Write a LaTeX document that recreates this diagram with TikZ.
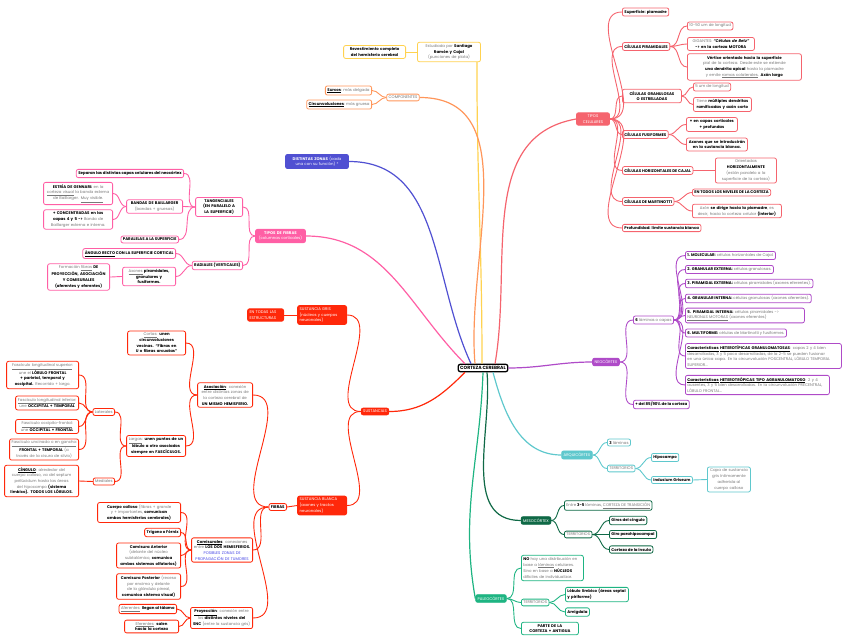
\documentclass[tikz,border=0pt]{standalone}
\usepackage{fontspec}
\setmainfont{Poppins}

\definecolor{csal}{RGB}{245,100,110}
\definecolor{cpur}{RGB}{175,75,200}
\definecolor{ctea}{RGB}{95,200,205}
\definecolor{cdkg}{RGB}{15,105,70}
\definecolor{cgrn}{RGB}{30,180,130}
\definecolor{cyel}{RGB}{255,210,80}
\definecolor{corg}{RGB}{255,150,90}
\definecolor{cblu}{RGB}{80,80,210}
\definecolor{cpnk}{RGB}{255,95,165}
\definecolor{cred}{RGB}{255,40,10}
\definecolor{softgray}{RGB}{120,120,120}
\definecolor{tumor}{RGB}{70,70,230}
\newcommand{\soft}[1]{\textcolor{softgray}{#1}}
\newcommand{\nohy}{\hyphenpenalty=10000\exhyphenpenalty=10000}

\begin{document}
\begin{tikzpicture}[
  x=1pt, y=-1pt,
  every node/.style={font=\fontsize{3.9}{5.7}\selectfont\nohy, inner sep=2pt, rounded corners=2pt},
  root/.style={draw=black, line width=1.3pt, fill=white, font=\fontsize{4.6}{6}\selectfont\bfseries},
  topic/.style={draw=#1, fill=#1, text=white, line width=0.8pt},
  leaf/.style={draw=#1, fill=white, line width=0.8pt},
  rs/.style={anchor=west},
  ls/.style={anchor=east},
  branch/.style={draw=#1, line width=1.2pt},
  link/.style={draw=#1, line width=0.9pt}
]
\useasboundingbox (0,0) rectangle (848,644);

% Nodes
\node[root] (cc) at (483,368) {CORTEZA CEREBRAL};

% tipos celulares
\node[topic=csal, text width=29pt, align=center] (tc) at (593,119) {TIPOS\\CELULARES};
\node[leaf=csal, rs] (pia) at (622,12) {\textbf{Superficie: piamadre}};
\node[leaf=csal, rs] (pir) at (622,46.5) {\textbf{CÉLULAS PIRAMIDALES}};
\node[leaf=csal, rs] (pir1) at (687,26) {\soft{10-50 um de longitud}};
\node[leaf=csal, rs, text width=63pt, align=center] (pir2) at (687,44) {\soft{GIGANTES:} \textbf{\textit{``Células de Betz''}} \textbf{-> en la corteza MOTORA}};
\node[leaf=csal, rs, text width=110pt, align=center] (pir3) at (687,67) {\textbf{Vértice orientado hacia la superficie} \soft{pial de la corteza. Desde este se extiende} \textbf{una dendrita apical} \soft{hasta la piamadre y emite \underline{ramas colaterales}.} \textbf{Axón largo}};
\node[leaf=csal, rs, text width=55pt, align=center] (gra) at (622,96) {\textbf{CÉLULAS GRANULOSAS O ESTRELLADAS}};
\node[leaf=csal, rs] (gra1) at (693,87) {\soft{5 um de longitud}};
\node[leaf=csal, rs, text width=54pt, align=center] (gra2) at (693,104.5) {\soft{Tiene} \textbf{múltiples dendritas ramificadas y axón corto}};
\node[leaf=csal, rs] (fus) at (622,134.5) {\textbf{CÉLULAS FUSIFORMES}};
\node[leaf=csal, rs, text width=47pt, align=center] (fus1) at (686,124.5) {\textbf{+ en capas corticales + profundas}};
\node[leaf=csal, rs, text width=57pt, align=center] (fus2) at (686,144.5) {\textbf{Axones que se introducirán en la sustancia blanca.}};
\node[leaf=csal, rs] (hor) at (622,170.5) {\textbf{CÉLULAS HORIZONTALES DE CAJAL}};
\node[leaf=csal, rs, text width=57pt, align=center] (hor1) at (715,170.5) {\soft{Orientadas} \textbf{HORIZONTALMENTE} \soft{(están paralelo a la superficie de la corteza)}};
\node[leaf=csal, rs] (mar) at (622,201.5) {\textbf{CÉLULAS DE MARTINOTTI}};
\node[leaf=csal, rs] (mar1) at (692,192.5) {\textbf{EN TODOS LOS NIVELES DE LA CORTEZA}};
\node[leaf=csal, rs, text width=85pt, align=center] (mar2) at (692,211) {\soft{Axón} \textbf{se dirige hacia la piamadre}\soft{, es decir, hacia la corteza celular} \textbf{(interior)}};
\node[leaf=csal, rs] (pro) at (622,228) {\textbf{Profundidad: límite sustancia blanca}};

% neocortex
\node[topic=cpur] (neo) at (606,362) {NEOCÓRTEX};
\node[leaf=cpur, rs] (seis) at (633,320) {\textbf{6} \soft{láminas o capas}};
\node[leaf=cpur, rs] (l1) at (685,255.5) {\textbf{1. MOLECULAR:} \soft{células horizontales de Cajal.}};
\node[leaf=cpur, rs] (l2) at (685,269.5) {\textbf{2. GRANULAR EXTERNA:} \soft{células granulosas.}};
\node[leaf=cpur, rs] (l3) at (685,283.5) {\textbf{3. PIRAMIDAL EXTERNA:} \soft{células piramidales (axones eferentes).}};
\node[leaf=cpur, rs] (l4) at (685,298.5) {\textbf{4. GRANULAR INTERNA:} \soft{células granulosas (axones aferentes).}};
\node[leaf=cpur, rs, text width=115pt, align=left] (l5) at (685,315.5) {\textbf{5. PIRAMIDAL INTERNA:} \soft{células piramidales -> \underline{NEURONAS MOTORAS} (axones eferentes)}};
\node[leaf=cpur, rs] (l6) at (685,333) {\textbf{6. MULTIFORME:} \soft{células de Martinotti y fusiformes.}};
\node[leaf=cpur, rs, text width=152pt, align=left] (l7) at (685,356) {\textbf{\underline{Características} \underline{HETEROTÍPICAS GRANULOMATOSAS}}\soft{: capas 2 y 4 bien desarrolladas, 3 y 5 poco desarrolladas, de la 2-5 se pueden fusionar en una única capa. En la circunvolución POSCENTRAL, LÓBULO TEMPORAL SUPERIOR...}};
\node[leaf=cpur, rs, text width=140pt, align=left] (l8) at (685,385) {\textbf{\underline{Características} \underline{HETEROTRÓPICAS TIPO AGRANULOMATOSO}}\soft{: 2 y 4 ausentes, 3 y 5 bien desarrolladas. En la circunvolución PRECENTRAL, LÓBULO FRONTAL...}};
\node[leaf=cpur, rs] (pct) at (633,404.5) {\textbf{+ del 85/90\% de la corteza}};

% arquicortex
\node[topic=ctea] (arq) at (577,455) {ARQUICÓRTEX};
\node[leaf=ctea, rs] (a1) at (607,442.5) {\textbf{3} \soft{láminas}};
\node[leaf=ctea, rs] (a2) at (607,468.5) {\soft{TERRITORIOS}};
\node[leaf=ctea, rs] (hip) at (651,457.5) {\textbf{Hipocampo}};
\node[leaf=ctea, rs] (ind) at (651,480) {\textbf{Indusium Griseum}};
\node[leaf=ctea, rs, text width=39pt, align=center] (capa) at (707,479.5) {\soft{Capa de sustancia gris íntimamente adherida al cuerpo calloso}};

% mesocortex
\node[topic=cdkg] (mes) at (536,520.5) {MESOCÓRTEX};
\node[leaf=cdkg, rs] (m1) at (564,505.5) {\soft{Entre} \textbf{3-5} \soft{láminas, \underline{CORTEZA DE TRANSICIÓN}}};
\node[leaf=cdkg, rs] (m2) at (564,534.5) {\soft{TERRITORIOS}};
\node[leaf=cdkg, rs] (cin) at (609,520.5) {\textbf{Giros del cíngulo}};
\node[leaf=cdkg, rs] (par) at (609,534.5) {\textbf{Giro parahipocampal}};
\node[leaf=cdkg, rs] (ins) at (609,549.5) {\textbf{Corteza de la ínsula}};

% paleocortex
\node[topic=cgrn] (pal) at (491,598.5) {PALEOCÓRTEX};
\node[leaf=cgrn, rs, text width=58pt, align=left] (p1) at (521,568) {\textbf{NO} \soft{hay una distribución en base a \underline{láminas} celulares. Sino en base a} \textbf{NÚCLEOS} \soft{difíciles de individualizar.}};
\node[leaf=cgrn, rs] (p2) at (521,602.5) {\soft{TERRITORIOS}};
\node[leaf=cgrn, rs, text width=59pt, align=left] (lim) at (565,594.5) {\textbf{Lóbulo límbico (áreas septal y piriforme)}};
\node[leaf=cgrn, rs] (ami) at (565,612) {\textbf{Amígdala}};
\node[leaf=cgrn, rs, text width=53pt, align=center] (p3) at (521,628.5) {\textbf{PARTE DE LA CORTEZA + ANTIGUA}};

% revestimiento
\node[leaf=cyel, text width=59pt, align=center] (est) at (449,52) {\soft{Estudiada por} \textbf{Santiago Ramón y Cajal} \soft{(punciones de plata)}};
\node[leaf=cyel, ls, text width=58pt, align=center] (rev) at (406,52) {\textbf{Revestimiento completo del hemisferio cerebral}};

% componentes
\node[leaf=corg] (com) at (403,97.5) {\soft{COMPONENTES}};
\node[leaf=corg, ls] (sur) at (372,90.5) {\textbf{\underline{Surcos}}\soft{: más delgada}};
\node[leaf=corg, ls] (cir) at (372,104.5) {\textbf{\underline{Circunvoluciones}}\soft{: más gruesa}};

% zonas
\node[topic=cblu, text width=59pt, align=center] (dz) at (317,161.5) {\textbf{DISTINTAS ZONAS} (cada una con su función) *};

% tipos de fibras
\node[topic=cpnk, text width=46pt, align=center] (tf) at (280.5,236) {\textbf{TIPOS DE FIBRAS} (columnas corticales)};
\node[leaf=cpnk, ls, text width=43pt, align=center] (tan) at (243,207) {\textbf{TANGENCIALES (EN PARALELO A LA SUPERFICIE)}};
\node[leaf=cpnk, ls] (sep) at (184,173.5) {\textbf{Separan las distintas capas celulares del neocórtex}};
\node[leaf=cpnk, ls, text width=52pt, align=center] (ban) at (183,206.5) {\textbf{BANDAS DE BAILLARGER}\\\soft{(bandas + gruesas)}};
\node[leaf=cpnk, ls, text width=65pt, align=center] (gen) at (113,193.5) {\textbf{ESTRÍA DE GENNARI:} \soft{en la \underline{corteza visual} la banda externa de Baillarger. \underline{Muy visible.}}};
\node[leaf=cpnk, ls, text width=65pt, align=center] (con) at (113,219.5) {\textbf{+ CONCENTRADAS en las capas 4 y 5 ->} \soft{Banda de Baillarger externa e interna.}};
\node[leaf=cpnk, ls] (par2) at (179,239.5) {\textbf{PARALELAS A LA SUPERFICIE}};
\node[leaf=cpnk, ls] (rad) at (243,265.5) {\textbf{RADIALES (VERTICALES)}};
\node[leaf=cpnk, ls] (ang) at (176,253.5) {\textbf{\underline{ÁNGULO RECTO} CON LA SUPERFICIE CORTICAL}};
\node[leaf=cpnk, ls, text width=49pt, align=center] (axo) at (176,276.5) {\soft{\underline{Axones}} \textbf{piramidales, granulares y fusiformes.}};
\node[leaf=cpnk, ls, text width=58pt, align=center] (fmn) at (110,277) {\soft{Formación \underline{fibras}} \textbf{DE PROYECCIÓN, ASOCIACIÓN Y COMISURALES (aferentes y eferentes)}};

% sustancias
\node[topic=cred] (sus) at (375,411.5) {SUSTANCIAS};
\node[topic=cred, ls, text width=45pt, align=left] (sg) at (347,315) {SUSTANCIA GRIS (núcleos y cuerpos neuronales)};
\node[topic=cred, ls, text width=32pt, align=left] (ent) at (284,315) {EN TODAS LAS ESTRUCTURAS};
\node[topic=cred, ls, text width=45pt, align=left] (sb) at (347,505.5) {SUSTANCIA BLANCA (axones y tractos neuronales)};
\node[leaf=cred, ls] (fib) at (287,507) {\textbf{FIBRAS}};
\node[leaf=cred, ls, text width=51pt, align=center] (aso) at (253,395) {\textbf{\underline{Asociación}}\soft{: conexión entre distintas zonas de la corteza cerebral de} \textbf{UN MISMO HEMISFERIO.}};
\node[leaf=cred, ls, text width=54pt, align=center] (cor) at (186,343) {\soft{\underline{Cortas}:} \textbf{unen circunvoluciones vecinas. ``Fibras en U o fibras arcuatas''}};
\node[leaf=cred, ls, text width=55pt, align=center] (lar) at (186,446) {\soft{\underline{Largas}:} \textbf{unen puntos de un lóbulo a otro asociados siempre en FASCÍCULOS.}};
\node[leaf=cred, ls] (lat) at (115,412) {\soft{Laterales}};
\node[leaf=cred, ls, text width=68pt, align=center] (fs) at (79,375) {\soft{\underline{Fascículo longitudinal superior}: une el} \textbf{LÓBULO FRONTAL + parietal, temporal y occipital.} \soft{Recorrido + largo.}};
\node[leaf=cred, ls, text width=59pt, align=center] (fi) at (79,403) {\soft{\underline{Fascículo longitudinal inferior}: une} \textbf{OCCIPITAL + TEMPORAL}};
\node[leaf=cred, ls, text width=59pt, align=center] (fo) at (79,426.5) {\soft{\underline{Fascículo occipito-frontal}: une} \textbf{OCCIPITAL + FRONTAL}};
\node[leaf=cred, ls, text width=65pt, align=center] (fu) at (79,449.5) {\soft{\underline{Fascículo uncinado o en gancho}:} \textbf{FRONTAL + TEMPORAL} \soft{(a través de la cisura de silvio)}};
\node[leaf=cred, ls] (med) at (115,481.5) {\soft{Mediales}};
\node[leaf=cred, ls, text width=70pt, align=center] (cing) at (79,481) {\textbf{\underline{CÍNGULO}}\soft{: alrededor del cuerpo calloso, va del septum pellúcidum hasta las áreas del hipocampo} \textbf{(sistema límbico). TODOS LOS LÓBULOS.}};
\node[leaf=cred, ls, text width=57pt, align=center] (comi) at (253,550) {\textbf{\underline{Comisurales}}\soft{: conexiones entre} \textbf{LOS DOS HEMISFERIOS.} \textcolor{tumor}{POSIBLES ZONAS DE PROPAGACIÓN DE TUMORES}};
\node[leaf=cred, ls, text width=79pt, align=center] (cc1) at (181,512.5) {\textbf{Cuerpo calloso} \soft{(fibras + grande y + importantes,} \textbf{comunican ambos hemisferios cerebrales)}};
\node[leaf=cred, ls] (tri) at (181,532.5) {\textbf{Trígono o Fórnix}};
\node[leaf=cred, ls, text width=60pt, align=center] (ca) at (181,555.5) {\textbf{Comisura Anterior} \soft{(delante del núcleo subtalámico,} \textbf{comunica ambos sistemas olfatorios)}};
\node[leaf=cred, ls, text width=60pt, align=center] (cp) at (181,586.5) {\textbf{Comisura Posterior} \soft{(receso por encima y delante de la glándula pineal,} \textbf{comunica sistema visual)}};
\node[leaf=cred, ls, text width=58pt, align=center] (proy) at (253,618) {\textbf{\underline{Proyección}}\soft{: conexión entre los} \textbf{distintos niveles del SNC} \soft{(entre la sustancia gris)}};
\node[leaf=cred, ls] (afe) at (177,609) {\soft{\underline{Aferentes}:} \textbf{llegan al tálamo}};
\node[leaf=cred, ls, text width=50pt, align=center] (efe) at (179,626.5) {\soft{\underline{Eferentes}:} \textbf{salen hacia la corteza}};

% Edges from the root
\draw[branch=csal] ([xshift=12pt]cc.north) to[out=80,in=190] (tc.west);
\draw[branch=cpur] (cc.east) to[out=0,in=180] (neo.west);
\draw[branch=ctea] ([xshift=10pt]cc.south) to[out=-75,in=180] (arq.west);
\draw[branch=cdkg] ([xshift=4pt]cc.south) to[out=-85,in=180] (mes.west);
\draw[branch=cgrn] (cc.south) to[out=-92,in=100] (pal.west);
\draw[branch=cyel] ([xshift=-1pt]cc.north) to[out=90,in=-90] ([xshift=-4pt]est.south east);
\draw[branch=corg] ([xshift=-8pt]cc.north) to[out=95,in=0] (com.east);
\draw[branch=cblu] ([xshift=-12pt]cc.north) to[out=115,in=0] (dz.east);
\draw[branch=cpnk] ([xshift=-18pt]cc.north) to[out=135,in=0] (tf.east);
\draw[branch=cred] ([xshift=-18pt]cc.south) to[out=-135,in=0] (sus.east);

% Edges, right side
\draw[link=csal] (tc.east) to[out=0,in=180] (pia.west);
\draw[link=csal] (tc.east) to[out=0,in=180] (pir.west);
\draw[link=csal] (tc.east) to[out=0,in=180] (gra.west);
\draw[link=csal] (tc.east) to[out=0,in=180] (fus.west);
\draw[link=csal] (tc.east) to[out=0,in=180] (hor.west);
\draw[link=csal] (tc.east) to[out=0,in=180] (mar.west);
\draw[link=csal] (tc.east) to[out=0,in=180] (pro.west);
\draw[link=csal] (pir.east) to[out=0,in=180] (pir1.west);
\draw[link=csal] (pir.east) to[out=0,in=180] (pir2.west);
\draw[link=csal] (pir.east) to[out=0,in=180] (pir3.west);
\draw[link=csal] (gra.east) to[out=0,in=180] (gra1.west);
\draw[link=csal] (gra.east) to[out=0,in=180] (gra2.west);
\draw[link=csal] (fus.east) to[out=0,in=180] (fus1.west);
\draw[link=csal] (fus.east) to[out=0,in=180] (fus2.west);
\draw[link=csal] (hor.east) -- (hor1.west);
\draw[link=csal] (mar.east) to[out=0,in=180] (mar1.west);
\draw[link=csal] (mar.east) to[out=0,in=180] (mar2.west);

\draw[link=cpur] (neo.east) to[out=0,in=180] (seis.west);
\draw[link=cpur] (neo.east) to[out=0,in=180] (pct.west);
\draw[link=cpur] (seis.east) to[out=0,in=180] (l1.west);
\draw[link=cpur] (seis.east) to[out=0,in=180] (l2.west);
\draw[link=cpur] (seis.east) to[out=0,in=180] (l3.west);
\draw[link=cpur] (seis.east) to[out=0,in=180] (l4.west);
\draw[link=cpur] (seis.east) to[out=0,in=180] (l5.west);
\draw[link=cpur] (seis.east) to[out=0,in=180] (l6.west);
\draw[link=cpur] (seis.east) to[out=0,in=180] (l7.west);
\draw[link=cpur] (seis.east) to[out=0,in=180] (l8.west);

\draw[link=ctea] (arq.east) to[out=0,in=180] (a1.west);
\draw[link=ctea] (arq.east) to[out=0,in=180] (a2.west);
\draw[link=ctea] (a2.east) to[out=0,in=180] (hip.west);
\draw[link=ctea] (a2.east) to[out=0,in=180] (ind.west);
\draw[link=ctea] (ind.east) -- (capa.west);

\draw[link=cdkg] (mes.east) to[out=0,in=180] (m1.west);
\draw[link=cdkg] (mes.east) to[out=0,in=180] (m2.west);
\draw[link=cdkg] (m2.east) to[out=0,in=180] (cin.west);
\draw[link=cdkg] (m2.east) to[out=0,in=180] (par.west);
\draw[link=cdkg] (m2.east) to[out=0,in=180] (ins.west);

\draw[link=cgrn] (pal.east) to[out=0,in=180] (p1.west);
\draw[link=cgrn] (pal.east) to[out=0,in=180] (p2.west);
\draw[link=cgrn] (pal.east) to[out=0,in=180] (p3.west);
\draw[link=cgrn] (p2.east) to[out=0,in=180] (lim.west);
\draw[link=cgrn] (p2.east) to[out=0,in=180] (ami.west);

% Edges, left side
\draw[link=cyel] (est.west) -- (rev.east);
\draw[link=corg] (com.west) to[out=180,in=0] (sur.east);
\draw[link=corg] (com.west) to[out=180,in=0] (cir.east);

\draw[link=cpnk] (tf.west) to[out=180,in=0] (tan.east);
\draw[link=cpnk] (tf.west) to[out=180,in=0] (rad.east);
\draw[link=cpnk] (tan.west) to[out=180,in=0] (sep.east);
\draw[link=cpnk] (tan.west) to[out=180,in=0] (ban.east);
\draw[link=cpnk] (tan.west) to[out=180,in=0] (par2.east);
\draw[link=cpnk] (ban.west) to[out=180,in=0] (gen.east);
\draw[link=cpnk] (ban.west) to[out=180,in=0] (con.east);
\draw[link=cpnk] (rad.west) to[out=180,in=0] (ang.east);
\draw[link=cpnk] (rad.west) to[out=180,in=0] (axo.east);
\draw[link=cpnk] (axo.west) to[out=180,in=0] (fmn.east);

\draw[link=cred] (sus.west) to[out=180,in=0] (sg.east);
\draw[link=cred] (sus.west) to[out=180,in=0] (sb.east);
\draw[link=cred] (sg.west) -- (ent.east);
\draw[link=cred] (sb.west) -- (fib.east);
\draw[link=cred] (fib.west) to[out=180,in=0] (aso.east);
\draw[link=cred] (fib.west) to[out=180,in=0] (comi.east);
\draw[link=cred] (fib.west) to[out=180,in=0] (proy.east);
\draw[link=cred] (aso.west) to[out=180,in=0] (cor.east);
\draw[link=cred] (aso.west) to[out=180,in=0] (lar.east);
\draw[link=cred] (lar.west) to[out=180,in=0] (lat.east);
\draw[link=cred] (lar.west) to[out=180,in=0] (med.east);
\draw[link=cred] (lat.west) to[out=180,in=0] (fs.east);
\draw[link=cred] (lat.west) to[out=180,in=0] (fi.east);
\draw[link=cred] (lat.west) to[out=180,in=0] (fo.east);
\draw[link=cred] (lat.west) to[out=180,in=0] (fu.east);
\draw[link=cred] (med.west) -- (cing.east);
\draw[link=cred] (comi.west) to[out=180,in=0] (cc1.east);
\draw[link=cred] (comi.west) to[out=180,in=0] (tri.east);
\draw[link=cred] (comi.west) to[out=180,in=0] (ca.east);
\draw[link=cred] (comi.west) to[out=180,in=0] (cp.east);
\draw[link=cred] (proy.west) to[out=180,in=0] (afe.east);
\draw[link=cred] (proy.west) to[out=180,in=0] (efe.east);

\end{tikzpicture}
\end{document}
